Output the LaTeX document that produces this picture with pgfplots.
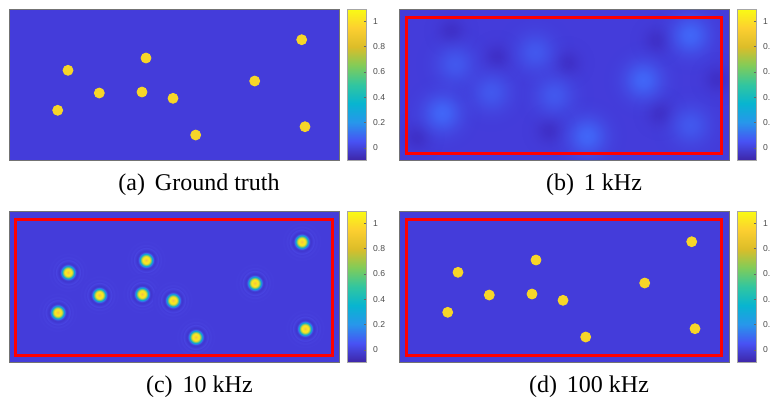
\documentclass[border=0pt]{standalone}
\usepackage{pgfplots}
\pgfplotsset{compat=1.18}
\usetikzlibrary{fadings}
\usepackage{fontspec}
\setmainfont{Liberation Serif}
\newfontfamily\cbfont{Liberation Sans}
\definecolor{bgc}{RGB}{68,60,218}
\definecolor{dotc}{RGB}{247,214,40}
\definecolor{lightc}{RGB}{65,102,248}
\definecolor{medc}{RGB}{66,88,238}
\definecolor{darkc}{RGB}{63,48,200}

% focused spot with diffraction rings (c)
\pgfdeclareradialshading{ringshade}{\pgfpointorigin}{%
rgb(0bp)=(0.96,0.74,0.28);
rgb(1.5bp)=(0.98,0.84,0.18);
rgb(4bp)=(0.97,0.92,0.12);
rgb(5.5bp)=(0.80,0.80,0.25);
rgb(6.5bp)=(0.35,0.75,0.55);
rgb(7.5bp)=(0.05,0.67,0.80);
rgb(8.5bp)=(0.17,0.50,0.92);
rgb(9.5bp)=(0.26,0.32,0.93);
rgb(10.5bp)=(0.245,0.21,0.80);
rgb(12bp)=(0.255,0.22,0.82);
rgb(13.5bp)=(0.267,0.235,0.855);
rgb(15bp)=(0.285,0.27,0.885);
rgb(16.5bp)=(0.262,0.228,0.848);
rgb(18.5bp)=(0.278,0.255,0.87);
rgb(20.5bp)=(0.264,0.231,0.851);
rgb(22.5bp)=(0.27,0.242,0.86);
rgb(25bp)=(0.267,0.235,0.855);
rgb(50bp)=(0.267,0.235,0.855)}
% gaussian opacity profile for the blurred blobs (b)
\pgfdeclareradialshading{gfadeshade}{\pgfpointorigin}{%
color(0bp)=(white);
color(4bp)=(black!12);
color(8bp)=(black!40);
color(12bp)=(black!68);
color(16bp)=(black!87);
color(20bp)=(black!96);
color(25bp)=(black);
color(50bp)=(black)}
\pgfdeclarefading{gfade}{\pgfuseshading{gfadeshade}}

\pgfdeclareplotmark{ringdot}{\pgfpathcircle{\pgfpointorigin}{\pgfplotmarksize}\pgfshadepath{ringshade}{0}\pgfusepath{discard}}
\pgfdeclareplotmark{blob}{\begin{pgfscope}\pgfpathcircle{\pgfpointorigin}{\pgfplotmarksize}\pgfsetfadingforcurrentpath{gfade}{}\pgfusepath{fill}\end{pgfscope}}

\pgfplotsset{
  colormap={parula}{rgb=(0.2422,0.1504,0.6603) rgb=(0.2810,0.3228,0.9579)
    rgb=(0.1540,0.5902,0.9218) rgb=(0.0297,0.7082,0.8163) rgb=(0.1938,0.7758,0.6251)
    rgb=(0.5044,0.7993,0.3480) rgb=(0.8634,0.7406,0.1596) rgb=(0.9892,0.8136,0.1885)
    rgb=(0.9769,0.9839,0.0805)},
  panel/.style={anchor=north west, scale only axis, width=165pt, height=75.5pt,
    xmin=0, xmax=330, ymin=0, ymax=151, y dir=reverse,
    xtick=\empty, ytick=\empty, clip marker paths=true,
    axis line style={draw=black!55, line width=0.3pt},
    axis background/.style={fill=bgc},
    colormap name=parula, colorbar,
    point meta min=-0.095, point meta max=1.095,
    colorbar style={
      at={(parent axis.north east)}, anchor=north west, xshift=-4.5pt,
      scale only axis, width=9.5pt, height=75.5pt,
      ytick={0,0.2,0.4,0.6,0.8,1},
      ytick pos=right, yticklabel pos=right,
      tick align=inside, major tick length=1pt,
      tick style={draw=black!60, line width=0.3pt},
      axis line style={draw=black!35, line width=0.3pt},
      yticklabel style={font=\cbfont\fontsize{4.3}{5}\selectfont, text=black!70},
      /pgf/number format/assume math mode=true,
    },
  },
  redbox/.style={draw=red, line width=1.5pt, mark=none},
  golddot/.style={only marks, mark=*, mark size=2.5pt, color=dotc, mark options={draw=dotc, fill=dotc}},
}

\begin{document}
\begin{tikzpicture}
% (a) ground truth
\begin{axis}[panel, at={(4.5pt,-4.5pt)}]
\addplot[golddot] coordinates {
(59,61.3) (137,49) (292.7,30.7) (90.3,84) (133,83) (164,89.3) (245.7,72) (48.7,101.3) (186.7,126) (296,117.7)};
\end{axis}
% (b) 1 kHz
\begin{axis}[panel, at={(199.5pt,-4.5pt)}]
\addplot[only marks, mark=blob, mark size=14pt, color=darkc] coordinates {
(98,48) (168,54) (150,121) (258,31) (261,104) (52,22) (18,128) (318,70)};
\addplot[only marks, mark=blob, mark size=20pt, color=medc] coordinates {
(56,55) (92,83) (136,43) (155,86) (291,116)};
\addplot[only marks, mark=blob, mark size=20pt, color=lightc] coordinates {
(43,104) (188,127) (244,71) (291,26)};
\addplot[redbox] coordinates {(7,8) (322,8) (322,144) (7,144)} -- cycle;
\end{axis}
% (c) 10 kHz
\begin{axis}[panel, at={(4.5pt,-105.5pt)}]
\addplot[only marks, mark=ringdot, mark size=10pt] coordinates {
(59,61.3) (137,49) (292.7,30.7) (90.3,84) (133,83) (164,89.3) (245.7,72) (48.7,101.3) (186.7,126) (296,117.7)};
\addplot[redbox] coordinates {(7,8) (323,8) (323,144) (7,144)} -- cycle;
\end{axis}
% (d) 100 kHz
\begin{axis}[panel, at={(199.5pt,-105.5pt)}]
\addplot[golddot] coordinates {
(59,61.3) (137,49) (292.7,30.7) (90.3,84) (133,83) (164,89.3) (245.7,72) (48.7,101.3) (186.7,126) (296,117.7)};
\addplot[redbox] coordinates {(7,8) (322,8) (322,144) (7,144)} -- cycle;
\end{axis}
\begin{scope}[every node/.style={font=\fontsize{12}{14}\selectfont, anchor=base, inner sep=0pt}]
\node at (99.5pt,-95.3pt) {(a)\hspace{5pt}Ground truth};
\node at (297pt,-95.3pt) {(b)\hspace{5pt}1 kHz};
\node at (99.7pt,-196.2pt) {(c)\hspace{5pt}10 kHz};
\node at (294.5pt,-196.2pt) {(d)\hspace{5pt}100 kHz};
\end{scope}
\pgfresetboundingbox
\path[use as bounding box] (0,0) rectangle (385pt,-199pt);
\end{tikzpicture}
\end{document}
